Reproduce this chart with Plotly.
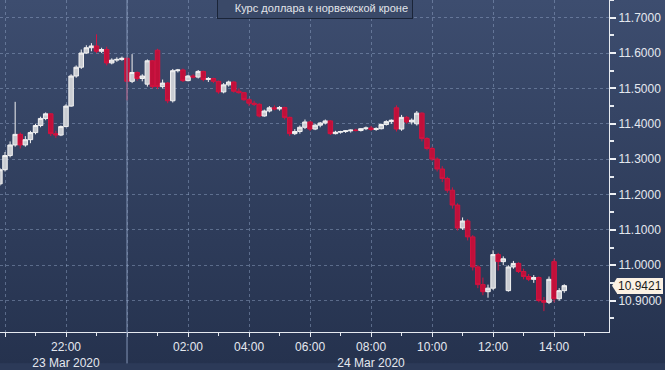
import base64
import pandas as pd
import plotly.graph_objects as go

# ---- data (10-minute bars, USD/NOK, 23-24 Mar 2020) ----
start_time = "2020-03-23 19:50"
opens = [11.230, 11.270, 11.310, 11.340, 11.370, 11.340, 11.355, 11.375, 11.395, 11.415,
         11.428, 11.372, 11.368, 11.392, 11.450, 11.535, 11.560, 11.600, 11.615, 11.620,
         11.605, 11.610, 11.572, 11.580, 11.582, 11.585, 11.520, 11.545, 11.528, 11.512,
         11.578, 11.608, 11.505, 11.515, 11.465, 11.550, 11.552, 11.522, 11.535, 11.532,
         11.548, 11.525, 11.528, 11.520, 11.490, 11.510, 11.518, 11.492, 11.488, 11.468,
         11.458, 11.455, 11.422, 11.436, 11.445, 11.442, 11.446, 11.418, 11.372, 11.378,
         11.390, 11.405, 11.385, 11.396, 11.402, 11.408, 11.372, 11.376, 11.378, 11.380,
         11.382, 11.381, 11.386, 11.388, 11.384, 11.386, 11.398, 11.406, 11.445, 11.385,
         11.418, 11.405, 11.400, 11.430, 11.358, 11.330, 11.300, 11.272, 11.245, 11.212,
         11.170, 11.105, 11.125, 11.080, 10.995, 10.945, 10.925, 10.935, 11.030, 11.010,
         10.928, 10.995, 11.005, 10.982, 10.968, 10.960, 10.965, 10.900, 10.895, 11.010,
         10.905, 10.928]
highs = [11.275, 11.320, 11.350, 11.462, 11.375, 11.365, 11.380, 11.400, 11.420, 11.432,
         11.430, 11.380, 11.395, 11.455, 11.540, 11.565, 11.610, 11.622, 11.628, 11.653,
         11.615, 11.618, 11.585, 11.588, 11.590, 11.588, 11.597, 11.548, 11.540, 11.582,
         11.580, 11.612, 11.525, 11.518, 11.555, 11.555, 11.556, 11.538, 11.540, 11.552,
         11.550, 11.532, 11.530, 11.522, 11.515, 11.522, 11.520, 11.500, 11.490, 11.472,
         11.465, 11.458, 11.440, 11.450, 11.452, 11.450, 11.448, 11.420, 11.385, 11.395,
         11.412, 11.408, 11.400, 11.405, 11.412, 11.410, 11.380, 11.380, 11.382, 11.384,
         11.386, 11.388, 11.392, 11.394, 11.390, 11.400, 11.410, 11.412, 11.452, 11.425,
         11.422, 11.415, 11.436, 11.432, 11.362, 11.335, 11.305, 11.280, 11.250, 11.220,
         11.175, 11.135, 11.130, 11.085, 11.000, 10.965, 10.945, 11.042, 11.035, 11.025,
         11.000, 11.012, 11.008, 10.990, 10.975, 10.972, 10.968, 10.910, 10.968, 11.018,
         10.935, 10.946]
lows = [11.225, 11.265, 11.305, 11.335, 11.330, 11.335, 11.345, 11.370, 11.390, 11.410,
        11.365, 11.360, 11.365, 11.390, 11.448, 11.530, 11.555, 11.598, 11.605, 11.600,
        11.600, 11.565, 11.568, 11.575, 11.578, 11.466, 11.515, 11.522, 11.520, 11.505,
        11.500, 11.498, 11.500, 11.458, 11.460, 11.545, 11.518, 11.520, 11.528, 11.528,
        11.520, 11.518, 11.515, 11.485, 11.486, 11.505, 11.488, 11.485, 11.465, 11.450,
        11.450, 11.418, 11.420, 11.432, 11.438, 11.437, 11.412, 11.365, 11.368, 11.372,
        11.385, 11.380, 11.382, 11.390, 11.398, 11.368, 11.370, 11.372, 11.374, 11.375,
        11.378, 11.378, 11.382, 11.380, 11.380, 11.384, 11.395, 11.400, 11.378, 11.380,
        11.400, 11.398, 11.395, 11.350, 11.325, 11.295, 11.265, 11.235, 11.205, 11.160,
        11.098, 11.100, 11.070, 10.985, 10.935, 10.915, 10.908, 10.930, 10.985, 11.000,
        10.925, 10.990, 10.978, 10.960, 10.955, 10.950, 10.895, 10.870, 10.890, 10.895,
        10.900, 10.922]
closes = [11.270, 11.310, 11.340, 11.370, 11.340, 11.355, 11.375, 11.395, 11.415, 11.428,
          11.372, 11.368, 11.392, 11.450, 11.535, 11.560, 11.600, 11.615, 11.620, 11.605,
          11.610, 11.572, 11.580, 11.582, 11.585, 11.520, 11.545, 11.528, 11.535, 11.578,
          11.505, 11.505, 11.515, 11.465, 11.550, 11.552, 11.522, 11.535, 11.532, 11.548,
          11.525, 11.528, 11.520, 11.490, 11.510, 11.518, 11.492, 11.488, 11.468, 11.458,
          11.455, 11.422, 11.436, 11.445, 11.442, 11.446, 11.418, 11.372, 11.378, 11.390,
          11.405, 11.385, 11.396, 11.402, 11.408, 11.372, 11.376, 11.378, 11.380, 11.382,
          11.381, 11.386, 11.388, 11.384, 11.386, 11.398, 11.406, 11.410, 11.385, 11.418,
          11.405, 11.410, 11.430, 11.358, 11.330, 11.300, 11.272, 11.245, 11.212, 11.170,
          11.105, 11.125, 11.080, 10.995, 10.945, 10.925, 10.935, 11.030, 11.010, 11.018,
          10.995, 11.005, 10.982, 10.968, 10.960, 10.965, 10.900, 10.895, 10.960, 10.905,
          10.928, 10.9421]

y_ticks = [10.9, 11.0, 11.1, 11.2, 11.3, 11.4, 11.5, 11.6, 11.7]
x_tickvals = ["2020-03-23 20:00", "2020-03-23 22:00", "2020-03-24 00:00", "2020-03-24 02:00",
              "2020-03-24 04:00", "2020-03-24 06:00", "2020-03-24 08:00", "2020-03-24 10:00",
              "2020-03-24 12:00", "2020-03-24 14:00"]
x_ticktext = ["", "22:00<br>23 Mar 2020", "", "02:00", "04:00", "06:00",
              "08:00<br>24 Mar 2020", "10:00", "12:00", "14:00"]
legend_name = "Курс доллара к норвежской кроне"

times = pd.date_range(start_time, periods=len(closes), freq="10min")

W, H = 665, 370
ML, MR, MT, MB = 0, 56, 0, 32
PW, PH = W - ML - MR, H - MT - MB

FONT = "Liberation Sans, Arial, sans-serif"
TXT = "#e4e8ef"
GRID = "rgba(150,170,205,0.45)"

fig = go.Figure()
fig.add_trace(go.Candlestick(
    x=times, open=opens, high=highs, low=lows, close=closes,
    name=legend_name,
    increasing=dict(line=dict(color="#f2f2f2", width=1), fillcolor="#c9ccd2"),
    decreasing=dict(line=dict(color="#d3123f", width=1), fillcolor="#c0103a"),
    whiskerwidth=0,
    showlegend=False,
    hoverinfo="skip",
))

svg = (f'<svg xmlns="http://www.w3.org/2000/svg" width="{W}" height="{H}" preserveAspectRatio="none">'
       '<defs><linearGradient id="g" x1="0" y1="0" x2="0" y2="1">'
       '<stop offset="0" stop-color="#3d4d6f"/><stop offset="1" stop-color="#25324e"/>'
       '</linearGradient></defs>'
       f'<rect width="{W}" height="{H}" fill="url(#g)"/></svg>')
src = "data:image/svg+xml;base64," + base64.b64encode(svg.encode()).decode()

fig.update_layout(
    width=W, height=H, autosize=False,
    margin=dict(l=ML, r=MR, t=MT, b=MB, pad=0),
    paper_bgcolor="#2c3a58", plot_bgcolor="rgba(0,0,0,0)",
    font=dict(family=FONT, size=12, color=TXT),
    showlegend=False,
    boxgap=0.12, boxgroupgap=0,
    images=[dict(source=src, xref="paper", yref="paper", x=0, y=1 + MT / PH,
                 sizex=W / PW, sizey=H / PH, xanchor="left", yanchor="top",
                 sizing="stretch", layer="below")],
)

fig.update_xaxes(
    type="date",
    range=["2020-03-23 19:50:10", "2020-03-24 15:48:00"],
    rangeslider=dict(visible=False),
    tickmode="array", tickvals=x_tickvals, ticktext=x_ticktext,
    showgrid=True, gridcolor=GRID, griddash="3px,3px", gridwidth=1,
    showline=True, linecolor="#e6eaf0", linewidth=1,
    ticks="outside", ticklen=4, tickcolor="#e6eaf0",
    minor=dict(dtick=3600000, ticks="outside", ticklen=3, tickcolor="#e6eaf0", showgrid=False),
    tickfont=dict(family=FONT, size=12, color=TXT),
    zeroline=False, fixedrange=True,
)
fig.update_yaxes(
    side="right",
    range=[10.811, 11.75],
    tickmode="array", tickvals=y_ticks, ticktext=[f"{v:.4f}" for v in y_ticks],
    showgrid=True, gridcolor=GRID, griddash="3px,3px", gridwidth=1,
    showline=True, linecolor="#e6eaf0", linewidth=1,
    ticks="outside", ticklen=6, tickwidth=2, tickcolor="#eef1f5",
    minor=dict(dtick=0.05, tick0=10.9, ticks="outside", ticklen=4, tickcolor="#e6eaf0", showgrid=False),
    tickfont=dict(family=FONT, size=12, color=TXT),
    zeroline=False, fixedrange=True,
)

# day separator
fig.add_shape(type="line", xref="x", yref="paper", x0=x_tickvals[2], x1=x_tickvals[2],
              y0=-MB / PH, y1=1, line=dict(color="#8395b6", width=1), layer="above")

# legend box
fig.add_annotation(
    xref="paper", yref="paper", x=314.5 / PW, y=1, xanchor="center", yanchor="top", yshift=3,
    text=legend_name, showarrow=False, width=186, align="right",
    font=dict(family=FONT, size=11, color="#e2e5ea"),
    bgcolor="#3a4968", bordercolor="#1a2438", borderwidth=1, borderpad=4,
)
fig.add_shape(type="rect", xref="paper", yref="paper",
              x0=222 / PW, x1=232 / PW, y0=1 - 17 / PH, y1=1 - 7 / PH,
              fillcolor="#f7f3f3", line=dict(width=0), layer="above")

# last value label
last = closes[-1]
fig.add_annotation(
    xref="paper", yref="y", x=617 / PW, y=last, xanchor="left", yanchor="middle",
    text=f"{last:.4f}", showarrow=False,
    font=dict(family=FONT, size=12, color="#1c1c1c"),
    bgcolor="#fbf1e4", bordercolor="#fbf1e4", borderwidth=0, borderpad=1,
)
half = 8 / (PH / (11.75 - 10.811))
fig.add_shape(type="path", xref="paper", yref="y",
              path=f"M {617 / PW} {last + half} L {612 / PW} {last} L {617 / PW} {last - half} Z",
              fillcolor="#fbf1e4", line=dict(width=0), layer="above")

fig.write_html("out.html")
